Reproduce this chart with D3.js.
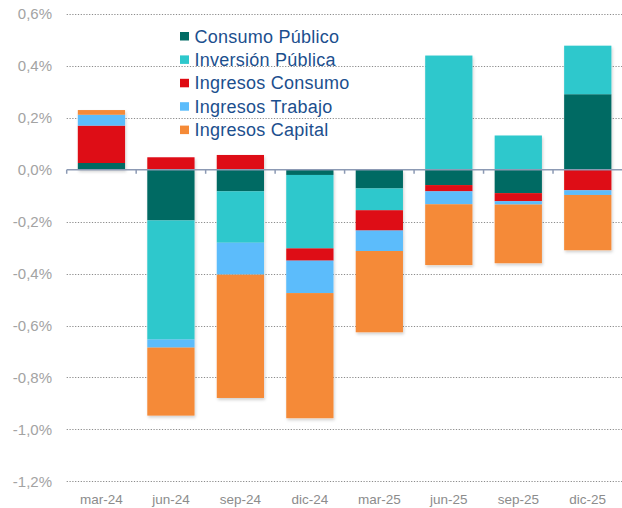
<!DOCTYPE html>
<html><head><meta charset="utf-8">
<script src="https://cdn.jsdelivr.net/npm/d3@7"></script>
<style>html,body{margin:0;padding:0;background:#fff;}svg{display:block;}</style>
</head><body>
<svg id="c" width="622" height="508"></svg>
<script>
const categories = ["mar-24","jun-24","sep-24","dic-24","mar-25","jun-25","sep-25","dic-25"];
const seriesNames = ["Consumo Público","Inversión Pública","Ingresos Consumo","Ingresos Trabajo","Ingresos Capital"];
const consumoPublico   = [0.026, -0.195, -0.083, -0.020, -0.072, -0.059, -0.090, 0.291];
const inversionPublica = [0.000, -0.459, -0.198, -0.283, -0.084, 0.440, 0.132, 0.187];
const ingresosConsumo  = [0.144, 0.048, 0.057, -0.047, -0.078, -0.024, -0.031, -0.079];
const ingresosTrabajo  = [0.042, -0.031, -0.123, -0.125, -0.079, -0.050, -0.013, -0.018];
const ingresosCapital  = [0.018, -0.262, -0.475, -0.482, -0.313, -0.234, -0.226, -0.213];
const yTicks = [0.6, 0.4, 0.2, 0.0, -0.2, -0.4, -0.6, -0.8, -1.0, -1.2];
const colors = ["#006b64","#2ec8cc","#de0a12","#5bbcfb","#f58a37"];

const seriesValues = [consumoPublico, inversionPublica, ingresosConsumo, ingresosTrabajo, ingresosCapital];
const table = categories.map((c,i)=>{
  const o = {cat:c};
  seriesNames.forEach((s,j)=>o[s]=seriesValues[j][i]);
  return o;
});

const svg = d3.select("#c");
const x = d3.scaleBand().domain(categories).range([66.7, 622.5]).paddingInner(0.32).paddingOuter(0.16);
const y = d3.scaleLinear().domain([-1.2, 0.6]).range([481.3, 14]);

const defs = svg.append("defs");
const f = defs.append("filter").attr("id","sh").attr("x","-20%").attr("y","-20%").attr("width","140%").attr("height","140%");
f.append("feDropShadow").attr("dx",1).attr("dy",2).attr("stdDeviation",1.8).attr("flood-color","#000").attr("flood-opacity",0.18);

// gridlines
svg.append("g").selectAll("line").data(yTicks.filter(d=>d!==0)).join("line")
  .attr("x1",66.7).attr("x2",622).attr("y1",d=>Math.round(y(d))+0.5).attr("y2",d=>Math.round(y(d))+0.5)
  .attr("stroke","#8a8a8a").attr("stroke-width",1.2).attr("stroke-dasharray","1.2,1.6");

// y labels
svg.append("g").selectAll("text").data(yTicks).join("text")
  .attr("x",52).attr("y",d=>y(d)).attr("dy","0.36em").attr("text-anchor","end")
  .attr("font-family","Liberation Sans, Arial, sans-serif").attr("font-size",15).attr("fill","#a3a3a3")
  .text(d=>d3.format(".1f")(d).replace("−","-").replace(".",",")+"%");

// bars
const stack = d3.stack().keys(seriesNames).offset(d3.stackOffsetDiverging);
const layers = stack(table);
const bars = svg.append("g").attr("filter","url(#sh)");
bars.selectAll("g").data(layers).join("g").attr("fill",(d,i)=>colors[i])
  .selectAll("rect").data(d=>d).join("rect")
  .attr("x",d=>x(d.data.cat)).attr("width",x.bandwidth())
  .attr("y",d=>y(Math.max(d[0],d[1]))).attr("height",d=>Math.abs(y(d[0])-y(d[1])));

// zero axis
const ax = svg.append("g").attr("stroke","#8c9ab4").attr("stroke-width",1.5).attr("fill","none");
ax.append("line").attr("x1",66.7).attr("x2",622).attr("y1",y(0)).attr("y2",y(0));
const step = x.step();
ax.selectAll("line.t").data(d3.range(categories.length)).join("line").attr("class","t")
  .attr("x1",(d)=>66.7+d*step).attr("x2",(d)=>66.7+d*step).attr("y1",y(0)).attr("y2",y(0)+4);

// x labels
svg.append("g").selectAll("text").data(categories).join("text")
  .attr("x",d=>x(d)+x.bandwidth()/2).attr("y",504).attr("text-anchor","middle")
  .attr("font-family","Liberation Sans, Arial, sans-serif").attr("font-size",13.5).attr("fill","#8c8c8c")
  .text(d=>d);

// legend
const lg = svg.append("g");
seriesNames.forEach((s,i)=>{
  const by = 42.5 + i*23.4;
  lg.append("rect").attr("x",180).attr("y",by-10.5).attr("width",9).attr("height",8.5).attr("fill",colors[i]);
  lg.append("text").attr("x",194.5).attr("y",by).attr("font-family","Liberation Sans, Arial, sans-serif")
    .attr("font-size",18).attr("letter-spacing","0.25px").attr("fill","#1c4f8e").text(s);
});
</script>
</body></html>
